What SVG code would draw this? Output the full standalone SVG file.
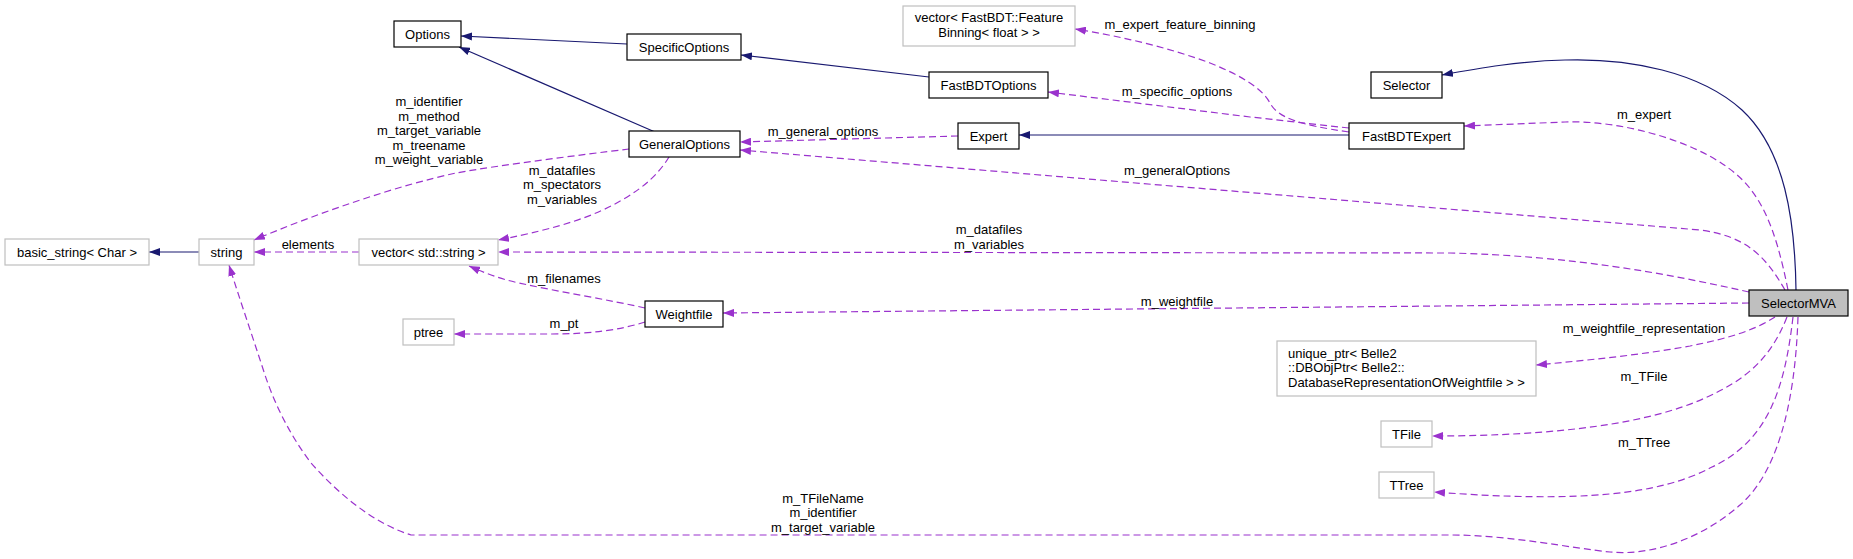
<svg xmlns="http://www.w3.org/2000/svg" width="1853" height="559" viewBox="0 0 1853 559">
<style>
text{font-family:"Liberation Sans",Arial,sans-serif;font-size:13px;fill:#000}
.n rect{fill:#fff;stroke:#000;stroke-width:1.2}
.g rect{fill:#fff;stroke:#bfbfbf;stroke-width:1.2}
.c{text-anchor:middle}
.inh{fill:none;stroke:#191970;stroke-width:1.2;marker-end:url(#an)}
.use{fill:none;stroke:#9a32cd;stroke-width:1.2;stroke-dasharray:7,4;marker-end:url(#ap)}
</style>
<defs>
<marker id="an" markerWidth="11" markerHeight="8" refX="11" refY="4" orient="auto" markerUnits="userSpaceOnUse"><path d="M0,0 L11,4 L0,8 z" fill="#191970"/></marker>
<marker id="ap" markerWidth="11" markerHeight="8" refX="11" refY="4" orient="auto" markerUnits="userSpaceOnUse"><path d="M0,0 L11,4 L0,8 z" fill="#9a32cd"/></marker>
</defs>
<rect width="1853" height="559" fill="#fff"/>
<g id="edges">
<path class="inh" d="M627,44 L461,36"/>
<path class="inh" d="M655,132 L459,47"/>
<path class="inh" d="M929,77 L741,55"/>
<path class="inh" d="M1349,135 L1019,135"/>
<path class="inh" d="M1796,290 C1795,220 1785,150 1742,110 C1700,72 1630,58 1565,60 C1520,61 1480,68 1442,75"/>
<path class="inh" d="M199,252 L149,252"/>
<path class="use" d="M1349,128 C1310,124 1280,120 1250,117 L1048,92"/>
<path class="use" d="M1349,132 C1300,125 1278,118 1270,103 C1262,88 1240,75 1210,63 C1170,48 1120,36 1075,29"/>
<path class="use" d="M958,136 L740,142"/>
<path class="use" d="M1785,290 C1765,255 1745,236 1700,230 L740,150"/>
<path class="use" d="M1749,292 C1660,272 1570,256 1450,253 L498,252"/>
<path class="use" d="M1788,290 C1775,225 1760,190 1727,167 C1690,140 1620,120 1565,122 L1464,126"/>
<path class="use" d="M1749,303 L723,313"/>
<path class="use" d="M1775,317 C1755,330 1730,338 1690,346 C1640,355 1590,360 1536,365"/>
<path class="use" d="M1787,317 C1770,360 1745,380 1705,398 C1650,423 1560,436 1432,436"/>
<path class="use" d="M1793,317 C1785,385 1770,440 1712,467 C1660,495 1580,503 1434,492"/>
<path class="use" d="M1798,317 C1795,410 1775,475 1740,505 C1700,540 1650,556 1610,552 C1570,548 1510,535 1450,535 L411,535 C370,522 335,490 311,463 C290,435 275,405 265,375 C252,335 240,300 229,265"/>
<path class="use" d="M629,149 C580,155 500,165 456,173 C400,185 320,212 254,240"/>
<path class="use" d="M669,157 C660,172 645,187 622,200 C595,216 560,228 498,240"/>
<path class="use" d="M359,252 L254,252"/>
<path class="use" d="M645,308 C610,300 560,292 519,283 C500,279 485,273 469,266"/>
<path class="use" d="M645,322 C620,330 590,334 552,334 L454,334"/>
<g class="c">
<text x="308" y="249">elements</text>
<text x="429" y="106">m_identifier</text>
<text x="429" y="120.5">m_method</text>
<text x="429" y="135">m_target_variable</text>
<text x="429" y="149.5">m_treename</text>
<text x="429" y="164">m_weight_variable</text>
<text x="562" y="174.5">m_datafiles</text>
<text x="562" y="189">m_spectators</text>
<text x="562" y="203.5">m_variables</text>
<text x="564" y="282.5">m_filenames</text>
<text x="564" y="327.5">m_pt</text>
<text x="823" y="135.5">m_general_options</text>
<text x="823" y="502.5">m_TFileName</text>
<text x="823" y="517">m_identifier</text>
<text x="823" y="531.5">m_target_variable</text>
<text x="989" y="234">m_datafiles</text>
<text x="989" y="248.5">m_variables</text>
<text x="1177" y="95.5">m_specific_options</text>
<text x="1177" y="174.5">m_generalOptions</text>
<text x="1177" y="305.5">m_weightfile</text>
<text x="1180" y="28.5">m_expert_feature_binning</text>
<text x="1644" y="118.5">m_expert</text>
<text x="1644" y="332.5">m_weightfile_representation</text>
<text x="1644" y="380.5">m_TFile</text>
<text x="1644" y="446.5">m_TTree</text>
</g>
</g>
<g id="basic_string" class="g"><rect x="5" y="239" width="144" height="26"/><text class="c" x="77" y="256.5">basic_string&lt; Char &gt;</text></g>
<g id="string" class="g"><rect x="199" y="239" width="55" height="26"/><text class="c" x="226.5" y="256.5">string</text></g>
<g id="vector_string" class="g"><rect x="359" y="239" width="139" height="26"/><text class="c" x="428.5" y="256.5">vector&lt; std::string &gt;</text></g>
<g id="ptree" class="g"><rect x="403" y="319" width="51" height="26"/><text class="c" x="428.5" y="336.5">ptree</text></g>
<g id="Options" class="n"><rect x="394" y="21" width="67" height="26"/><text class="c" x="427.5" y="38.5">Options</text></g>
<g id="SpecificOptions" class="n"><rect x="627" y="34" width="114" height="26"/><text class="c" x="684" y="51.5">SpecificOptions</text></g>
<g id="GeneralOptions" class="n"><rect x="629" y="131" width="111" height="26"/><text class="c" x="684.5" y="148.5">GeneralOptions</text></g>
<g id="Weightfile" class="n"><rect x="645" y="301" width="78" height="26"/><text class="c" x="684" y="318.5">Weightfile</text></g>
<g id="vector_featurebinning" class="g"><rect x="903" y="6" width="172" height="40"/><text class="c" x="989" y="22">vector&lt; FastBDT::Feature</text><text class="c" x="989" y="36.5">Binning&lt; float &gt; &gt;</text></g>
<g id="FastBDTOptions" class="n"><rect x="929" y="72" width="119" height="26"/><text class="c" x="988.5" y="89.5">FastBDTOptions</text></g>
<g id="Expert" class="n"><rect x="958" y="123" width="61" height="26"/><text class="c" x="988.5" y="140.5">Expert</text></g>
<g id="Selector" class="n"><rect x="1371" y="72" width="71" height="26"/><text class="c" x="1406.5" y="89.5">Selector</text></g>
<g id="FastBDTExpert" class="n"><rect x="1349" y="123" width="115" height="26"/><text class="c" x="1406.5" y="140.5">FastBDTExpert</text></g>
<g id="unique_ptr" class="g"><rect x="1277" y="341" width="259" height="55"/><text x="1288" y="357.5">unique_ptr&lt; Belle2</text><text x="1288" y="372">::DBObjPtr&lt; Belle2::</text><text x="1288" y="386.5">DatabaseRepresentationOfWeightfile &gt; &gt;</text></g>
<g id="TFile" class="g"><rect x="1381" y="421" width="51" height="26"/><text class="c" x="1406.5" y="438.5">TFile</text></g>
<g id="TTree" class="g"><rect x="1379" y="472" width="55" height="26"/><text class="c" x="1406.5" y="489.5">TTree</text></g>
<g id="SelectorMVA"><rect x="1749" y="290" width="99" height="26" fill="#bfbfbf" stroke="#000" stroke-width="1.2"/><text class="c" x="1798.5" y="307.5">SelectorMVA</text></g>
</svg>
